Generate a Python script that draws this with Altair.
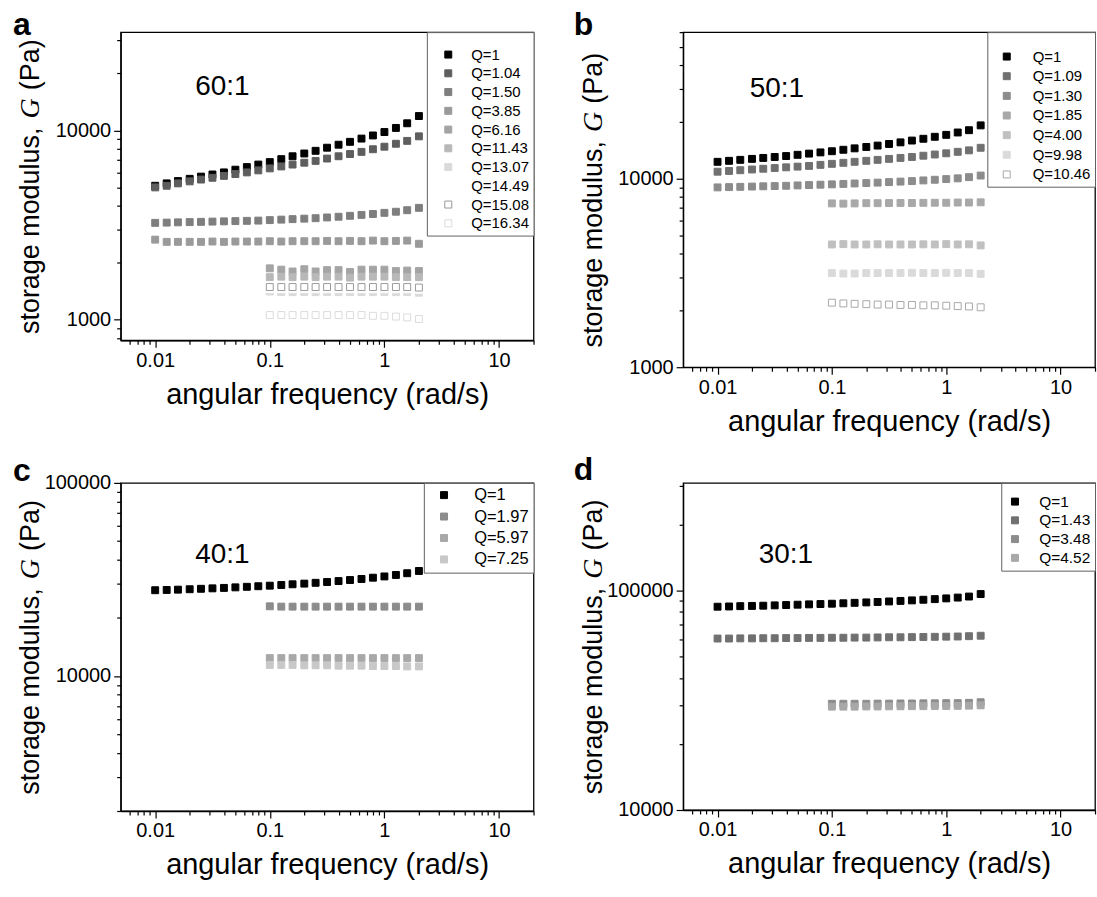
import altair as alt
import pandas as pd

FONT = "Liberation Sans"

# angular frequency grid (rad/s), 10 points per decade
FREQ = [0.01, 0.0126, 0.0158, 0.02, 0.0251, 0.0316, 0.0398, 0.0501, 0.0631, 0.0794,
        0.1, 0.126, 0.158, 0.2, 0.251, 0.316, 0.398, 0.501, 0.631, 0.794,
        1.0, 1.26, 1.58, 2.0]
FREQ_HI = [0.1, 0.126, 0.158, 0.2, 0.251, 0.316, 0.398, 0.501, 0.631, 0.794,
           1.0, 1.26, 1.58, 2.0]

X_TICKS = [0.006, 0.007, 0.008, 0.009, 0.01, 0.02, 0.03, 0.04, 0.05, 0.06, 0.07, 0.08, 0.09,
           0.1, 0.2, 0.3, 0.4, 0.5, 0.6, 0.7, 0.8, 0.9, 1, 2, 3, 4, 5, 6, 7, 8, 9, 10, 20]
X_MAJOR = "[0.01, 0.1, 1, 10]"
Y_MAJOR = "[1000, 10000, 100000]"

Y_TITLE = "storage modulus,\u00a0\u00a0\u00a0\u00a0\u00a0(Pa)"   # italic G drawn on top
Y_TITLE_G = "G"

# ---------------- panel a (60:1) ----------------
A_NAMES = ["Q=1", "Q=1.04", "Q=1.50", "Q=3.85", "Q=6.16", "Q=11.43", "Q=13.07",
           "Q=14.49", "Q=15.08", "Q=16.34"]
A_FILL = ["#000000", "#5e5e5e", "#7e7e7e", "#9a9a9a", "#a4a4a4", "#b8b8b8", "#dadada",
          "#ffffff", "#ffffff", "#ffffff"]
A_STROKE = ["#000000", "#5e5e5e", "#7e7e7e", "#9a9a9a", "#a4a4a4", "#b8b8b8", "#dadada",
            "#ffffff", "#9a9a9a", "#dcdcdc"]
A_Q1 = [5100, 5250, 5400, 5550, 5700, 5850, 6000, 6200, 6400, 6600, 6800, 7050, 7300,
        7550, 7800, 8100, 8400, 8700, 9050, 9400, 9800, 10300, 10900, 11900]
A_Q104 = [5000, 5100, 5250, 5380, 5500, 5620, 5750, 5880, 6000, 6150, 6300, 6450, 6600,
          6750, 6900, 7100, 7300, 7500, 7700, 7950, 8200, 8500, 8800, 9300]
A_Q150 = [3250, 3260, 3270, 3280, 3290, 3300, 3310, 3320, 3330, 3340, 3360, 3380, 3400,
          3420, 3440, 3470, 3500, 3540, 3580, 3620, 3670, 3720, 3790, 3900]
A_Q385 = [2650, 2580, 2580, 2580, 2580, 2590, 2580, 2590, 2590, 2590, 2600, 2590, 2600,
          2600, 2600, 2610, 2600, 2610, 2600, 2620, 2600, 2610, 2620, 2520]
A_Q616 = [1870, 1840, 1800, 1850, 1800, 1830, 1830, 1790, 1840, 1840, 1840, 1810, 1820, 1810]
A_Q1143 = [1680, 1690, 1680, 1690, 1680, 1690, 1690, 1670, 1690, 1690, 1690, 1680, 1680, 1680]
A_Q1307 = [1410, 1400, 1400, 1400, 1400, 1400, 1400, 1400, 1400, 1400, 1400, 1400, 1400, 1390]
A_Q1449 = [1450, 1450, 1450, 1450, 1450, 1450, 1450, 1450, 1450, 1450, 1450, 1450, 1450, 1440]
A_Q1508 = [1490, 1490, 1490, 1490, 1490, 1490, 1490, 1490, 1490, 1490, 1490, 1490, 1490, 1480]
A_Q1634 = [1060, 1060, 1060, 1060, 1060, 1060, 1060, 1060, 1060, 1050, 1050, 1040, 1030, 1010]
A_VALUES = [A_Q1, A_Q104, A_Q150, A_Q385, A_Q616, A_Q1143, A_Q1307, A_Q1449, A_Q1508, A_Q1634]

# ---------------- panel b (50:1) ----------------
B_NAMES = ["Q=1", "Q=1.09", "Q=1.30", "Q=1.85", "Q=4.00", "Q=9.98", "Q=10.46"]
B_FILL = ["#000000", "#707070", "#8c8c8c", "#a8a8a8", "#c0c0c0", "#dadada", "#ffffff"]
B_STROKE = ["#000000", "#707070", "#8c8c8c", "#a8a8a8", "#c0c0c0", "#dadada", "#a8a8a8"]
B_Q1 = [12300, 12450, 12600, 12750, 12900, 13050, 13200, 13400, 13600, 13800, 14000, 14250,
        14500, 14750, 15000, 15300, 15600, 15950, 16300, 16700, 17100, 17600, 18100, 19200]
B_Q109 = [10900, 11000, 11100, 11200, 11300, 11400, 11500, 11600, 11700, 11850, 12000, 12150,
          12300, 12450, 12600, 12750, 12900, 13050, 13250, 13450, 13650, 13900, 14150, 14600]
B_Q130 = [9000, 9030, 9060, 9090, 9120, 9150, 9180, 9220, 9260, 9300, 9340, 9390, 9440,
          9490, 9540, 9600, 9660, 9720, 9800, 9880, 9960, 10050, 10200, 10400]
B_Q185 = [7400, 7380, 7400, 7420, 7420, 7430, 7440, 7440, 7450, 7460, 7460, 7480, 7480, 7500]
B_Q400 = [4480, 4500, 4480, 4480, 4490, 4480, 4480, 4480, 4490, 4480, 4500, 4480, 4490, 4430]
B_Q998 = [3160, 3140, 3140, 3160, 3160, 3160, 3160, 3170, 3160, 3160, 3170, 3160, 3160, 3130]
B_Q1046 = [2200, 2180, 2170, 2160, 2150, 2150, 2140, 2140, 2130, 2130, 2120, 2110, 2100, 2080]
B_VALUES = [B_Q1, B_Q109, B_Q130, B_Q185, B_Q400, B_Q998, B_Q1046]

# ---------------- panel c (40:1) ----------------
C_NAMES = ["Q=1", "Q=1.97", "Q=5.97", "Q=7.25"]
C_FILL = ["#000000", "#8c8c8c", "#a8a8a8", "#c8c8c8"]
C_STROKE = C_FILL
C_Q1 = [27810, 27900, 28000, 28140, 28290, 28440, 28590, 28780, 28970, 29170, 29360, 29600,
        29850, 30090, 30380, 30680, 31020, 31410, 31800, 32290, 32780, 33370, 34060, 34990]
C_Q197 = [22960, 22870, 22870, 22870, 22870, 22870, 22870, 22870, 22870, 22870, 22870, 22870,
          22870, 22870]
C_Q597 = [12380, 12380, 12380, 12380, 12380, 12380, 12380, 12380, 12380, 12380, 12380, 12380,
          12380, 12380]
C_Q725 = [11410, 11410, 11410, 11360, 11360, 11360, 11310, 11310, 11310, 11260, 11260, 11260,
          11210, 11210]
C_VALUES = [C_Q1, C_Q197, C_Q597, C_Q725]

# ---------------- panel d (30:1) ----------------
D_NAMES = ["Q=1", "Q=1.43", "Q=3.48", "Q=4.52"]
D_FILL = ["#000000", "#707070", "#8c8c8c", "#a8a8a8"]
D_STROKE = D_FILL
D_Q1 = [84500, 84700, 85000, 85200, 85400, 85700, 86000, 86300, 86600, 86900, 87200, 87600,
        88000, 88400, 88800, 89300, 89800, 90300, 90900, 91500, 92200, 93000, 94000, 96500]
D_Q143 = [60500, 60500, 60600, 60600, 60700, 60700, 60800, 60800, 60900, 60900, 61000, 61000,
          61100, 61100, 61200, 61300, 61300, 61400, 61500, 61600, 61700, 61800, 62000, 62300]
D_Q348 = [30500, 30500, 30500, 30500, 30550, 30550, 30600, 30600, 30650, 30650, 30700, 30700,
          30800, 31000]
D_Q452 = [29600, 29600, 29600, 29650, 29650, 29700, 29700, 29750, 29750, 29800, 29800, 29850,
          29900, 30000]
D_VALUES = [D_Q1, D_Q143, D_Q348, D_Q452]

Y_TITLE_SIZE = 27
Y_TITLE_PAD = 6
Y_EXTENT = 70


def minor_ticks(decades):
    out = []
    for d in decades:
        for m in range(1, 10):
            out.append(m * d)
    return out


def panel(names, fills, strokes, values, ydom, yticks, w, h, letter, letter_pos,
          ratio, ratio_pos, leg):
    rows = []
    for i, (n, vs) in enumerate(zip(names, values)):
        fr = FREQ if len(vs) == len(FREQ) else FREQ_HI
        for f, v in zip(fr, vs):
            rows.append({"freq": f, "G": v, "Q": n, "ord": i})
    df = pd.DataFrame(rows)

    x = alt.X("freq:Q",
              scale=alt.Scale(type="log", domain=[0.005, 20]),
              axis=alt.Axis(values=X_TICKS, format="~g",
                            labelExpr="indexof(" + X_MAJOR + ", datum.value) >= 0 ? datum.label : ''",
                            tickSize={"condition": {"test": "indexof(" + X_MAJOR + ", datum.value) >= 0",
                                                    "value": 7}, "value": 4},
                            title="angular frequency (rad/s)", titlePadding=10,
                            titleFontSize=29, labelOverlap=False))
    y = alt.Y("G:Q",
              scale=alt.Scale(type="log", domain=ydom),
              axis=alt.Axis(values=yticks, format="d",
                            labelExpr="indexof(" + Y_MAJOR + ", datum.value) >= 0 ? datum.label : ''",
                            tickSize={"condition": {"test": "indexof(" + Y_MAJOR + ", datum.value) >= 0",
                                                    "value": 7}, "value": 4},
                            title=Y_TITLE, titlePadding=Y_TITLE_PAD,
                            titleFontSize=Y_TITLE_SIZE, minExtent=Y_EXTENT, maxExtent=Y_EXTENT,
                            labelOverlap=False))

    legend_kwargs = dict(
        orient="top-right", offset=0, strokeColor="#606060", fillColor="white",
        padding=4, symbolType="square", symbolSize=49, symbolStrokeWidth=1,
        labelFont=FONT, labelFontSize=leg["fs"], labelColor="black",
        rowPadding=leg["rp"], symbolOffset=leg["so"], labelOffset=leg["lo"],
        cornerRadius=0,
    )
    if leg.get("th"):
        legend_kwargs.update(title=" ", titleFontSize=leg["th"], titlePadding=leg["tp"])
    else:
        legend_kwargs.update(title=None)
    lg = alt.Legend(**legend_kwargs)

    pts = alt.Chart(df).mark_square(size=48, opacity=1, strokeWidth=1).encode(
        x=x, y=y,
        fill=alt.Fill("Q:N", scale=alt.Scale(domain=names, range=fills), legend=lg),
        stroke=alt.Stroke("Q:N", scale=alt.Scale(domain=names, range=strokes), legend=lg),
        order=alt.Order("ord:Q"),
    )
    let = alt.Chart(pd.DataFrame({"t": [letter]})).mark_text(
        font=FONT, fontSize=32, fontWeight="bold", align="center", baseline="alphabetic",
        color="black"
    ).encode(text="t:N", x=alt.value(letter_pos[0]), y=alt.value(letter_pos[1]))
    rat = alt.Chart(pd.DataFrame({"t": [ratio]})).mark_text(
        font=FONT, fontSize=28, align="center", baseline="middle", color="black"
    ).encode(text="t:N", x=alt.value(ratio_pos[0]), y=alt.value(ratio_pos[1]))
    # italic "G" of the y-axis title, placed in the gap left in the title string
    g_x = -(Y_EXTENT + Y_TITLE_PAD + Y_TITLE_SIZE / 2)
    g_y = h / 2 - 2.89 * Y_TITLE_SIZE
    gi = alt.Chart(pd.DataFrame({"t": [Y_TITLE_G]})).mark_text(
        font="Liberation Serif", fontSize=Y_TITLE_SIZE + 1, fontStyle="italic",
        align="center", baseline="middle", angle=270, color="black"
    ).encode(text="t:N", x=alt.value(g_x), y=alt.value(g_y))
    return alt.layer(pts, let, rat, gi).properties(width=w, height=h)


A = panel(A_NAMES, A_FILL, A_STROKE, A_VALUES, [780, 33000],
          minor_ticks([100, 1000, 10000]), 414, 309, "a", (-99, 3), "60:1", (102, 55),
          dict(fs=15, rp=2.8, so=10, lo=15.5, th=8, tp=3))
B = panel(B_NAMES, B_FILL, B_STROKE, B_VALUES, [1000, 60000],
          minor_ticks([1000, 10000]), 413, 336, "b", (-100, 3), "50:1", (94, 57),
          dict(fs=15, rp=3.7, so=8, lo=18.5, th=9, tp=4))
C = panel(C_NAMES, C_FILL, C_STROKE, C_VALUES, [2000, 100000],
          minor_ticks([1000, 10000, 100000]), 414, 329, "c", (-99, -2), "40:1", (102, 72),
          dict(fs=16.5, rp=4.5, so=8, lo=22))
D = panel(D_NAMES, D_FILL, D_STROKE, D_VALUES, [10000, 310000],
          minor_ticks([10000, 100000]), 413, 328, "d", (-100, -3), "30:1", (103, 72),
          dict(fs=15.5, rp=1.8, so=2, lo=16.5, th=4, tp=3))

chart = alt.concat(A, B, C, D, columns=2, spacing={"row": 116, "column": 150},
                   bounds="flush", align="all").resolve_scale(
    x="independent", y="independent", fill="independent", stroke="independent"
).configure_view(stroke="black", strokeWidth=1.3).configure_axis(
    labelFont=FONT, labelFontSize=20, labelColor="black", labelPadding=3,
    titleFont=FONT, titleFontWeight="normal", titleColor="black",
    domainColor="black", domainWidth=1.3, tickColor="black", tickWidth=1.2,
    grid=False,
).properties(padding={"left": 12, "top": 7, "right": 0, "bottom": 5},
             background="white")

chart.save("out.html", embed_options={"renderer": "svg", "actions": False})
